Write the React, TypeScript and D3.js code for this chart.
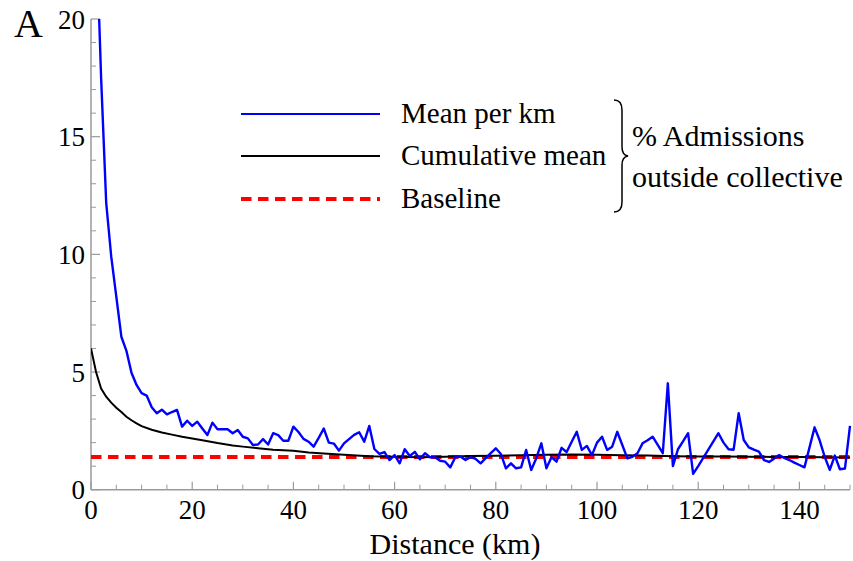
import React from 'react';
import * as d3 from 'd3';

// Mean per km (% admissions outside collective), km 1..150
const blueStartKm = 1;
const meanPerKm = [
  24, 17.5, 12.2, 9.9, 8.2, 6.5, 5.9, 4.97, 4.45, 4.1,
  4.0, 3.5, 3.25, 3.4, 3.2, 3.3, 3.39, 2.68, 2.93, 2.71,
  2.89, 2.6, 2.32, 2.85, 2.57, 2.57, 2.57, 2.4, 2.54, 2.25,
  2.18, 1.9, 1.92, 2.15, 1.92, 2.4, 2.32, 2.08, 2.08, 2.68,
  2.45, 2.16, 2.04, 1.83, 2.2, 2.6, 2.0, 1.96, 1.66, 1.97,
  2.15, 2.33, 2.44, 2.04, 2.71, 1.73, 1.52, 1.6, 1.26, 1.47,
  1.12, 1.72, 1.43, 1.61, 1.29, 1.55, 1.38, 1.38, 1.23, 1.19,
  0.95, 1.38, 1.41, 1.26, 1.38, 1.31, 1.12, 1.34, 1.55, 1.76,
  1.52, 0.91, 1.12, 0.91, 0.95, 1.69, 0.84, 1.34, 1.97, 0.91,
  1.38, 1.19, 1.78, 1.6, 2.04, 2.46, 1.69, 1.86, 1.47, 2.0,
  2.25, 1.69, 1.83, 2.46, 1.9, 1.33, 1.4, 1.55, 1.97, 2.1,
  2.25, 1.9, 1.55, 4.52, 1.0, 1.72, 2.05, 2.4, 0.67, 1.0,
  1.35, 1.7, 2.05, 2.4, 2.0, 1.72, 1.7, 3.25, 2.11, 1.8,
  1.7, 1.62, 1.26, 1.18, 1.32, 1.47, 1.35, 1.26, 1.15, 1.05,
  0.95, 1.8, 2.65, 2.1, 1.4, 0.84, 1.45, 0.87, 0.9, 2.71,
];

// Cumulative mean
const cumKm = [0, 1, 2, 3, 4, 5, 6, 7, 8, 9, 10, 12, 14, 16, 18, 20, 22, 25, 28, 30, 33, 36, 40, 43, 46, 50, 55, 60, 65, 70, 75, 80, 85, 90, 95, 100, 105, 110, 115, 120, 125, 130, 135, 140, 145, 150];
const cumMean = [6.0, 5.0, 4.3, 3.95, 3.7, 3.48, 3.3, 3.1, 2.95, 2.82, 2.7, 2.55, 2.43, 2.34, 2.25, 2.18, 2.1, 1.98, 1.88, 1.83, 1.76, 1.7, 1.65, 1.58, 1.54, 1.48, 1.42, 1.4, 1.38, 1.4, 1.43, 1.44, 1.46, 1.48, 1.5, 1.48, 1.46, 1.45, 1.42, 1.41, 1.41, 1.4, 1.39, 1.39, 1.38, 1.37];

const baseline = 1.39;

const xTicksMajor = [0, 20, 40, 60, 80, 100, 120, 140];
const yTicksMajor = [0, 5, 10, 15, 20];

const legendItems = ['Mean per km', 'Cumulative mean', 'Baseline'];
const legendColors = ['#0000ff', '#000000', '#ff0000'];
const groupLabel = ['% Admissions', 'outside collective'];

const W = 853, H = 561;
const L = 91, R = 850, T = 19, B = 489.7;
const FONT = "'Liberation Serif', 'Times New Roman', Times, 'DejaVu Serif', serif";
const AXIS = '#9a9a9a';

export default function App() {
  const x = d3.scaleLinear().domain([0, 150]).range([L, R]);
  const y = d3.scaleLinear().domain([0, 20]).range([B, T]);

  const blueData = meanPerKm.map((v, i) => [blueStartKm + i, v] as [number, number]);
  const cumData = cumKm.map((k, i) => [k, cumMean[i]] as [number, number]);
  const line = d3.line<[number, number]>().x(d => x(d[0])).y(d => y(d[1]));

  const xMinor = d3.range(0, 151, 5).filter(v => v % 20 !== 0);
  const yMinor = d3.range(0, 21, 1).filter(v => v % 5 !== 0);

  const legY = [114, 156, 199];
  const txt = { fontFamily: FONT, fill: '#000' } as React.CSSProperties;

  return (
    <svg width={W} height={H} style={{ position: 'absolute', left: 0, top: 0, background: '#fff', fontFamily: FONT }}>
      <defs>
        <clipPath id="plot-clip">
          <rect x={L} y={T} width={R - L + 3} height={B - T} />
        </clipPath>
      </defs>

      {/* axes */}
      <line x1={L} x2={L} y1={T} y2={B} stroke={AXIS} strokeWidth={1.5} />
      <line x1={L} x2={R} y1={B} y2={B} stroke={AXIS} strokeWidth={1.5} />
      {yTicksMajor.map(t => (
        <g key={'ym' + t}>
          <line x1={L} x2={L + 9} y1={y(t)} y2={y(t)} stroke={AXIS} strokeWidth={1.2} />
          <text x={85} y={y(t) + 9.5} textAnchor="end" fontSize={27} style={txt}>{t}</text>
        </g>
      ))}
      {yMinor.map(t => (
        <line key={'yn' + t} x1={L} x2={L + 5} y1={y(t)} y2={y(t)} stroke={AXIS} strokeWidth={1} />
      ))}
      {xTicksMajor.map(t => (
        <g key={'xm' + t}>
          <line x1={x(t)} x2={x(t)} y1={B} y2={B - 8} stroke={AXIS} strokeWidth={1.2} />
          <text x={x(t)} y={519} textAnchor="middle" fontSize={27} style={txt}>{t}</text>
        </g>
      ))}
      {xMinor.map(t => (
        <line key={'xn' + t} x1={x(t)} x2={x(t)} y1={B} y2={B - 5} stroke={AXIS} strokeWidth={1} />
      ))}
      <text x={455} y={554} textAnchor="middle" fontSize={30} style={txt}>Distance (km)</text>
      <text x={14} y={37} fontSize={40} style={txt}>A</text>

      {/* series */}
      <g clipPath="url(#plot-clip)">
        <line x1={x(0)} x2={x(150)} y1={y(baseline)} y2={y(baseline)} stroke="#ff0000" strokeWidth={4} strokeDasharray="10.5,6.5" />
        <path d={line(cumData) || ''} fill="none" stroke="#000" strokeWidth={2} />
        <path d={line(blueData) || ''} fill="none" stroke="#0000ff" strokeWidth={2.4} strokeLinejoin="round" />
      </g>

      {/* legend */}
      {legendItems.map((s, i) => (
        <g key={s}>
          <line x1={241} x2={380} y1={legY[i]} y2={legY[i]} stroke={legendColors[i]}
            strokeWidth={i === 2 ? 4 : 2} strokeDasharray={i === 2 ? '10.5,6.5' : undefined} />
          <text x={401} y={legY[i] + 9} fontSize={29} style={txt}>{s}</text>
        </g>
      ))}
      <path d="M614,100 Q622,100 622,110 L622,147 Q622,155 628,156 Q622,157 622,165 L622,202 Q622,212 614,212"
        fill="none" stroke="#000" strokeWidth={1.5} />
      {groupLabel.map((s, i) => (
        <text key={s} x={632} y={146 + i * 41} fontSize={30} style={txt}>{s}</text>
      ))}
    </svg>
  );
}
